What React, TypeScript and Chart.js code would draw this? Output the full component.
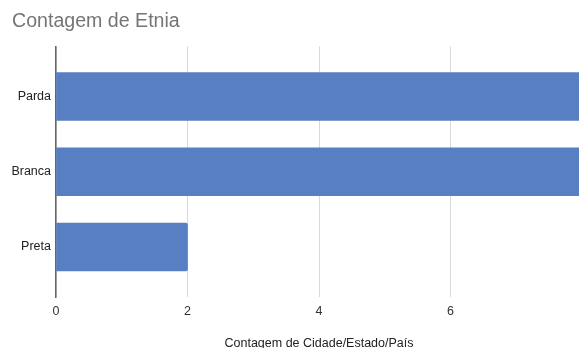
import React, { useEffect, useRef } from "react";
import { Chart, registerables } from "chart.js";

Chart.register(...registerables);

const categories = ["Parda", "Branca", "Preta"];
const counts = [8, 8, 2];
const xTicks = [0, 2, 4, 6, 8];
const chartTitle = "Contagem de Etnia";
const xAxisTitle = "Contagem de Cidade/Estado/País";

export default function App() {
  const ref = useRef<HTMLCanvasElement | null>(null);

  useEffect(() => {
    const canvas = ref.current;
    if (!canvas) return;
    const font = "'Liberation Sans', Arial, sans-serif";
    const chart = new Chart(canvas, {
      type: "bar",
      data: {
        datasets: [
          {
            data: counts.map((v, i) => ({ x: v, y: i })),
            backgroundColor: "#587fc1",
            borderWidth: 0,
            borderRadius: 2,
            barThickness: 48,
          },
        ],
      },
      options: {
        indexAxis: "y",
        animation: false,
        responsive: false,
        maintainAspectRatio: false,
        layout: { padding: { left: 12, right: 18, top: 0, bottom: 0 } },
        plugins: {
          legend: { display: false },
          tooltip: { enabled: false },
          title: {
            display: true,
            text: chartTitle,
            align: "start",
            color: "#757575",
            font: { family: font, size: 19.6, weight: "normal" },
            padding: { top: 10, bottom: 13 },
          },
        },
        scales: {
          x: {
            type: "linear",
            min: xTicks[0],
            max: xTicks[xTicks.length - 1],
            afterBuildTicks: (scale: any) => {
              scale.ticks = xTicks.map((v) => ({ value: v }));
            },
            afterFit: (scale: any) => {
              scale.height = 54;
            },
            grid: { color: "#d9d9d9", lineWidth: 1, drawTicks: false },
            border: { display: false },
            ticks: {
              color: "#333333",
              font: { family: font, size: 12.5 },
              padding: 7,
            },
            title: {
              display: true,
              text: xAxisTitle,
              color: "#222222",
              font: { family: font, size: 12.5 },
              padding: { top: 0, bottom: 0 },
            },
          },
          y: {
            type: "linear",
            offset: false,
            reverse: true,
            min: -0.665,
            max: categories.length - 1 + 0.665,
            afterBuildTicks: (scale: any) => {
              scale.ticks = categories.map((_, i) => ({ value: i }));
            },
            afterFit: (scale: any) => {
              scale.width = 44;
            },
            grid: { display: false, drawTicks: false, offset: false },
            border: { display: true, color: "#666666", width: 1.5 },
            ticks: {
              color: "#222222",
              font: { family: font, size: 12.5 },
              padding: 5,
              callback: (v: any) => {
                const i = Math.round(Number(v));
                return Math.abs(Number(v) - i) < 1e-6 ? categories[i] ?? "" : "";
              },
            },
          },
        },
      },
    });
    return () => chart.destroy();
  }, []);

  return (
    <div
      style={{
        position: "fixed",
        left: 0,
        top: 0,
        width: 579,
        height: 348,
        overflow: "hidden",
        background: "#ffffff",
      }}
    >
      <canvas ref={ref} width={600} height={351} style={{ display: "block" }} />
    </div>
  );
}
